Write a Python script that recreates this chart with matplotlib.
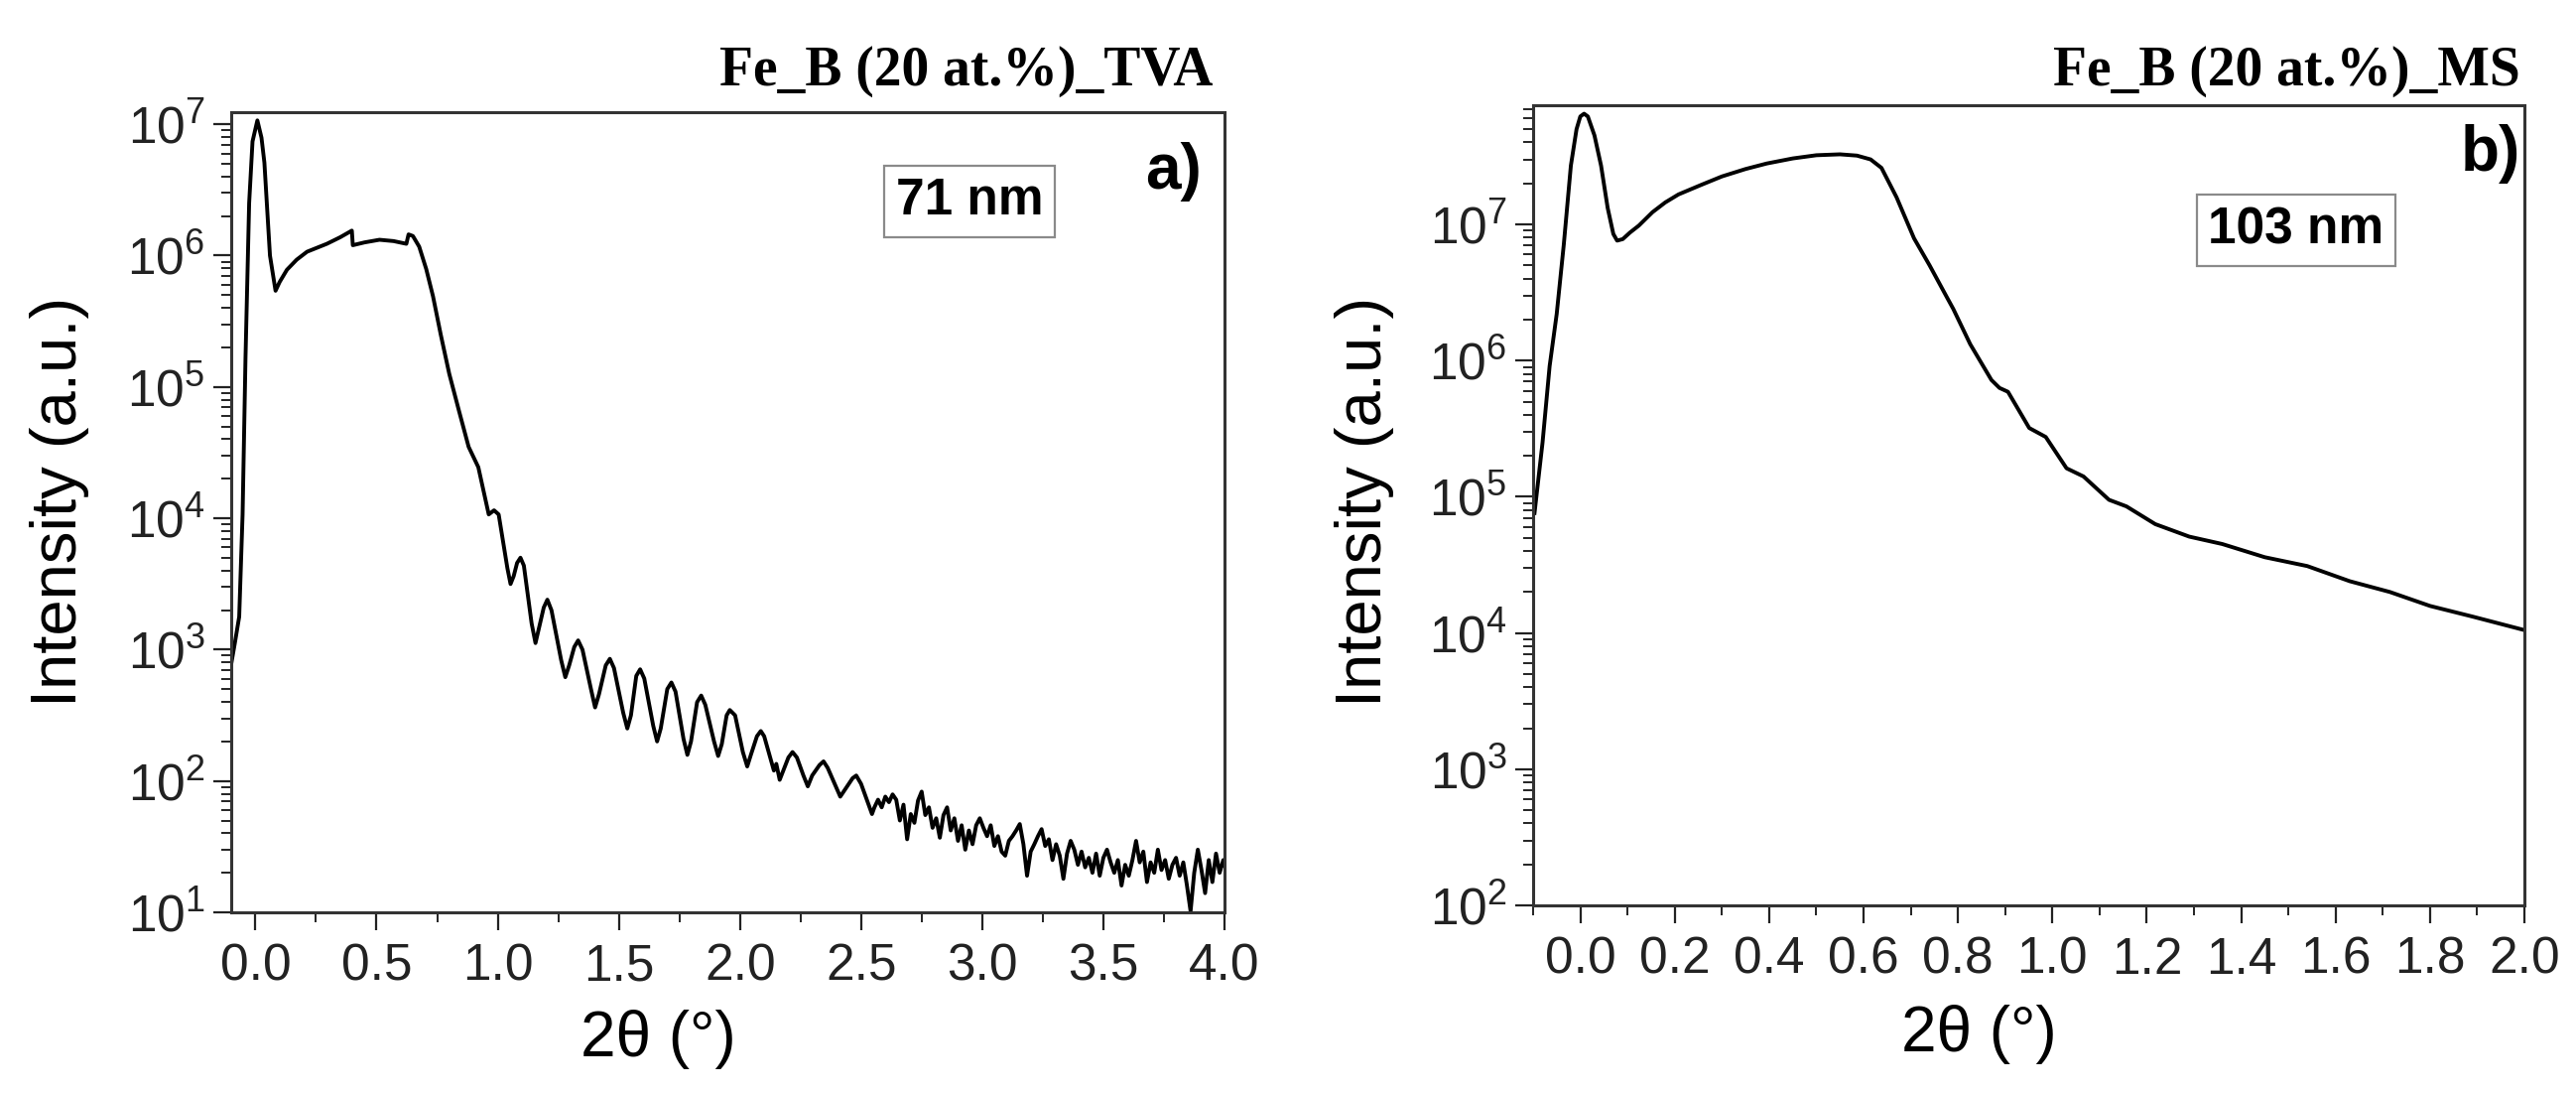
import matplotlib
matplotlib.use("Agg")
import matplotlib.pyplot as plt
from matplotlib.ticker import LogLocator, NullFormatter, MultipleLocator, AutoMinorLocator, FormatStrFormatter

plt.rcParams['font.family'] = ['Liberation Sans', 'DejaVu Sans']
plt.rcParams['mathtext.fontset'] = 'custom'
plt.rcParams['mathtext.rm'] = 'Liberation Sans'

# ---------------- data: panel a) Fe_B (20 at.%)_TVA ----------------
tva_2theta = [
    -0.100, -0.085, -0.067, -0.053, -0.041, -0.026, -0.012, 0.008, 0.025, 0.037,
    0.060, 0.083, 0.100, 0.130, 0.170, 0.213, 0.255, 0.295, 0.350, 0.398,
    0.402, 0.450, 0.512, 0.570, 0.623, 0.632, 0.650, 0.676, 0.705, 0.733,
    0.765, 0.800, 0.840, 0.880, 0.920, 0.963, 0.985, 1.004, 1.040, 1.053,
    1.066, 1.080, 1.094, 1.108, 1.140, 1.156, 1.170, 1.190, 1.205, 1.222,
    1.262, 1.279, 1.295, 1.316, 1.332, 1.350, 1.385, 1.402, 1.418, 1.446,
    1.463, 1.480, 1.518, 1.535, 1.550, 1.572, 1.588, 1.605, 1.642, 1.658,
    1.673, 1.700, 1.717, 1.734, 1.767, 1.783, 1.798, 1.823, 1.840, 1.857,
    1.893, 1.910, 1.925, 1.945, 1.958, 1.980, 2.012, 2.030, 2.045, 2.070,
    2.086, 2.100, 2.140, 2.150, 2.164, 2.200, 2.217, 2.235, 2.262, 2.280,
    2.298, 2.328, 2.345, 2.362, 2.398, 2.414, 2.465, 2.480, 2.500, 2.545,
    2.555, 2.570, 2.585, 2.600, 2.615, 2.630, 2.645, 2.660, 2.675, 2.690,
    2.705, 2.720, 2.735, 2.750, 2.765, 2.780, 2.795, 2.810, 2.825, 2.840,
    2.855, 2.870, 2.885, 2.900, 2.915, 2.930, 2.945, 2.960, 2.975, 2.990,
    3.005, 3.020, 3.035, 3.050, 3.065, 3.080, 3.095, 3.110, 3.125, 3.140,
    3.155, 3.170, 3.185, 3.200, 3.215, 3.230, 3.245, 3.260, 3.275, 3.290,
    3.305, 3.320, 3.335, 3.350, 3.365, 3.380, 3.395, 3.410, 3.425, 3.440,
    3.455, 3.470, 3.485, 3.500, 3.515, 3.530, 3.545, 3.560, 3.575, 3.590,
    3.605, 3.620, 3.635, 3.650, 3.665, 3.680, 3.695, 3.710, 3.725, 3.740,
    3.755, 3.770, 3.785, 3.800, 3.815, 3.830, 3.845, 3.860, 3.875, 3.890,
    3.905, 3.920, 3.935, 3.950, 3.965, 3.980, 3.995, 4.000,
]
tva_intensity = [
    776, 1120, 1780, 1.07e4, 1.66e5, 2.5e6, 7.4e6, 1.07e7, 7.9e6, 5.1e6,
    1.0e6, 5.4e5, 6.3e5, 7.8e5, 9.3e5, 1.07e6, 1.15e6, 1.23e6, 1.38e6, 1.55e6,
    1.20e6, 1.26e6, 1.32e6, 1.29e6, 1.23e6, 1.45e6, 1.41e6, 1.17e6, 7.9e5, 4.9e5,
    2.5e5, 1.26e5, 6.6e4, 3.5e4, 2.45e4, 1.07e4, 1.15e4, 1.07e4, 4170, 3160,
    3630, 4570, 5010, 4365, 1585, 1122, 1445, 2090, 2400, 1995,
    832, 617, 759, 1047, 1175, 1000, 501, 363, 457, 759,
    851, 724, 331, 251, 316, 631, 708, 603, 263, 200,
    251, 501, 562, 479, 209, 158, 200, 398, 447, 380,
    200, 155, 191, 316, 347, 316, 166, 129, 158, 219,
    240, 219, 120, 135, 102, 151, 166, 151, 110, 91,
    110, 132, 141, 126, 89, 76, 105, 110, 95, 56,
    63, 72, 63, 76, 69, 79, 72, 50, 66, 36,
    56, 48, 71, 83, 55, 63, 44, 52, 37, 55,
    63, 42, 52, 35, 46, 30, 42, 33, 46, 52,
    44, 38, 46, 32, 38, 29, 27, 35, 38, 42,
    47, 33, 19, 29, 33, 38, 43, 32, 36, 25,
    33, 27, 18, 28, 35, 30, 23, 29, 22, 26,
    20, 28, 19, 26, 30, 24, 20, 25, 16, 23,
    19, 25, 35, 24, 29, 17, 24, 20, 30, 21,
    25, 18, 23, 26, 19, 24, 16, 10.2, 20, 30,
    21, 14, 25, 17, 28, 20, 25, 23,
]

# ---------------- data: panel b) Fe_B (20 at.%)_MS ----------------
ms_2theta = [
    -0.097, -0.080, -0.065, -0.050, -0.035, -0.020, -0.008, 0.000, 0.008, 0.016,
    0.030, 0.044, 0.058, 0.070, 0.078, 0.090, 0.105, 0.124, 0.153, 0.180,
    0.208, 0.256, 0.300, 0.350, 0.395, 0.450, 0.500, 0.550, 0.586, 0.615,
    0.638, 0.670, 0.707, 0.740, 0.777, 0.790, 0.826, 0.871, 0.888, 0.906,
    0.951, 0.986, 1.030, 1.066, 1.120, 1.157, 1.218, 1.290, 1.360, 1.450,
    1.540, 1.630, 1.715, 1.800, 1.890, 2.000,
]
ms_intensity = [
    7.6e4, 2.5e5, 9.1e5, 2.2e6, 7.1e6, 2.7e7, 5.0e7, 6.2e7, 6.5e7, 6.2e7,
    4.5e7, 2.7e7, 1.32e7, 8.5e6, 7.6e6, 7.8e6, 8.7e6, 9.8e6, 1.23e7, 1.45e7,
    1.66e7, 1.95e7, 2.25e7, 2.55e7, 2.8e7, 3.05e7, 3.22e7, 3.27e7, 3.2e7, 3.0e7,
    2.6e7, 1.58e7, 7.9e6, 5.0e6, 2.9e6, 2.4e6, 1.32e6, 7.2e5, 6.3e5, 5.9e5,
    3.2e5, 2.75e5, 1.62e5, 1.41e5, 9.5e4, 8.5e4, 6.3e4, 5.1e4, 4.5e4, 3.6e4,
    3.1e4, 2.4e4, 2.0e4, 1.58e4, 1.32e4, 1.05e4,
]

titles = ["Fe_B (20 at.%)_TVA", "Fe_B (20 at.%)_MS"]
panel_tags = ["a)", "b)"]
thickness = ["71 nm", "103 nm"]
xlabel = "2\u03b8 (\u00b0)"
ylabel = "Intensity (a.u.)"

W, H = 2596, 1101
fig = plt.figure(figsize=(W / 100, H / 100), dpi=100)

def fx(px):
    return px / W

def fy(py):
    return 1 - py / H

ax1 = fig.add_axes([fx(233), fy(919), (1234 - 233) / W, (919 - 113) / H])
ax2 = fig.add_axes([fx(1545), fy(912), (2544 - 1545) / W, (912 - 106) / H])

spine_col = '#333333'
for ax in (ax1, ax2):
    ax.set_yscale('log')
    for s in ax.spines.values():
        s.set_linewidth(2.2)
        s.set_color(spine_col)
    ax.tick_params(which='major', direction='out', length=13, width=1.6,
                   labelsize=37, colors='#222222', top=False, right=False)
    ax.tick_params(which='minor', direction='out', length=7, width=1.4,
                   colors='#222222', top=False, right=False)
    ax.tick_params(axis='x', which='major', pad=9)
    ax.tick_params(axis='y', which='major', pad=6)
    ax.yaxis.set_major_locator(LogLocator(base=10, numticks=20))
    ax.yaxis.set_minor_locator(LogLocator(base=10, subs=range(2, 10), numticks=20))
    ax.yaxis.set_minor_formatter(NullFormatter())
    ax.xaxis.set_major_formatter(FormatStrFormatter('%.1f'))
    ax.xaxis.set_minor_locator(AutoMinorLocator(2))

ax1.plot(tva_2theta, tva_intensity, color='black', lw=2.8)
ax1.set_xlim(-0.1, 4.0)
ax1.set_ylim(10, 10 ** 7.092)
ax1.xaxis.set_major_locator(MultipleLocator(0.5))

ax2.plot(ms_2theta, ms_intensity, color='black', lw=2.8)
ax2.set_xlim(-0.1, 2.0)
ax2.set_ylim(100, 10 ** 7.875)
ax2.xaxis.set_major_locator(MultipleLocator(0.2))

# titles above the frames
fig.text(fx(1222), fy(72), titles[0], ha='right', va='center', fontsize=40,
         fontweight='bold', family=['Liberation Serif', 'DejaVu Serif'])
fig.text(fx(2540), fy(72), titles[1], ha='right', va='center', fontsize=40,
         fontweight='bold', family=['Liberation Serif', 'DejaVu Serif'])

# panel tags
fig.text(fx(1211), fy(173), panel_tags[0], ha='right', va='center', fontsize=46, fontweight='bold')
fig.text(fx(2540), fy(155), panel_tags[1], ha='right', va='center', fontsize=46, fontweight='bold')

# thickness boxes
box = dict(boxstyle='square,pad=0.22', facecolor='white', edgecolor='#8a8a8a', linewidth=1.6)
fig.text(fx(977), fy(203), thickness[0], ha='center', va='center', fontsize=37,
         fontweight='bold', bbox=box)
fig.text(fx(2314), fy(232), thickness[1], ha='center', va='center', fontsize=37,
         fontweight='bold', bbox=box)

# axis labels
fig.text(fx(663), fy(1047), xlabel, ha='center', va='center', fontsize=46)
fig.text(fx(1994), fy(1042), xlabel, ha='center', va='center', fontsize=46)
fig.text(fx(60), fy(505), ylabel, ha='center', va='center', rotation=90, fontsize=47)
fig.text(fx(1375), fy(505), ylabel, ha='center', va='center', rotation=90, fontsize=47)

fig.savefig('out.png', dpi=100, facecolor='white')
